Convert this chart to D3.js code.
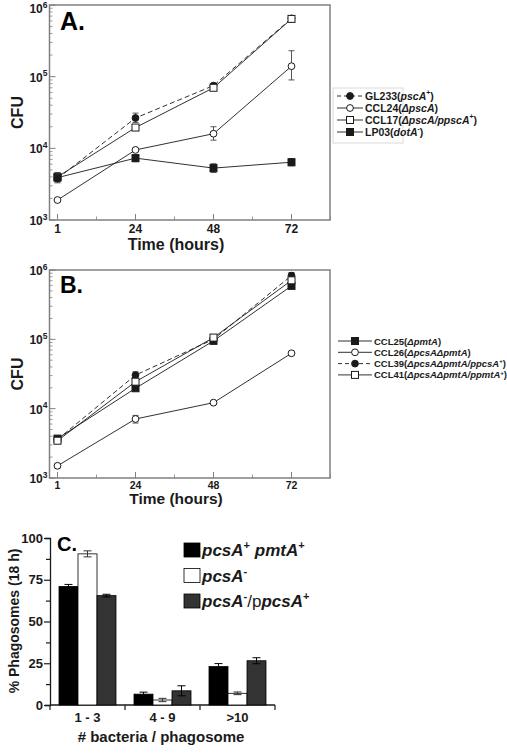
<!DOCTYPE html>
<html><head><meta charset="utf-8">
<script src="https://cdn.jsdelivr.net/npm/d3@7/dist/d3.min.js"></script>
<style>
html,body{margin:0;padding:0;background:#fff;}
svg{display:block;font-family:"Liberation Sans",Arial,Helvetica,sans-serif;font-weight:bold;}
</style></head>
<body><svg id="fig" width="507" height="756"></svg>
<script>
// ---------------- DATA ----------------
const timeLabels = ["1", "24", "48", "72"];
const yTickExps = [3, 4, 5, 6];

// Panel A (CFU)
const gl233   = [3800, 26500, 75000, 650000];
const gl233Lo = [3300, 23000, 70000, 600000];
const gl233Hi = [4400, 31000, 80000, 700000];
const ccl24   = [1900, 9500, 16000, 140000];
const ccl24Lo = [1800, 9000, 13000, 90000];
const ccl24Hi = [2000, 10000, 20000, 230000];
const ccl17   = [4000, 19500, 70000, 640000];
const ccl17Lo = [3800, 18500, 66000, 590000];
const ccl17Hi = [4200, 20500, 74000, 700000];
const lp03    = [3900, 7300, 5300, 6400];
const lp03Lo  = [3400, 6500, 4600, 5700];
const lp03Hi  = [4600, 8100, 6100, 7200];

// Panel B (CFU)
const ccl25   = [3700, 19700, 95000, 590000];
const ccl25Lo = [3500, 18500, 90000, 560000];
const ccl25Hi = [3900, 21000, 100000, 620000];
const ccl26   = [1500, 7100, 12200, 63000];
const ccl26Lo = [1400, 6200, 11500, 60000];
const ccl26Hi = [1600, 8000, 12900, 66000];
const ccl39   = [3600, 30500, 100000, 830000];
const ccl39Lo = [3400, 27000, 95000, 720000];
const ccl39Hi = [3800, 34000, 105000, 920000];
const ccl41   = [3450, 24500, 106000, 710000];
const ccl41Lo = [3250, 23000, 100000, 680000];
const ccl41Hi = [3650, 26000, 112000, 740000];

// Panel C (% phagosomes)
const barCategories = ["1 - 3", "4 - 9", ">10"];
const pctWT   = [71, 6.5, 23];
const errWT   = [1.2, 1.2, 1.8];
const pctPcsA = [90.5, 3, 7];
const errPcsA = [1.8, 1.0, 0.8];
const pctComp = [65.5, 8.5, 26.5];
const errComp = [0.8, 3.0, 1.8];
const barTicks = [0, 12.5, 25, 37.5, 50, 62.5, 75, 87.5, 100];

// ---------------- HELPERS ----------------
const svg = d3.select("#fig");
const INK = "#1a1a1a";

function rich(textSel, segs, size) {
  let raised = false;
  segs.forEach(s => {
    const t = textSel.append("tspan").text(s.t);
    if (s.i) t.attr("font-style", "italic");
    if (s.n) t.attr("font-weight", "normal");
    if (s.sup) {
      t.attr("font-size", size * 0.65).attr("dy", -size * 0.4);
      raised = true;
    } else if (raised) {
      t.attr("dy", size * 0.4);
      raised = false;
    }
  });
}

function marker(g, type, cx, cy) {
  if (type === "fc" || type === "oc") {
    g.append("circle").attr("cx", cx).attr("cy", cy).attr("r", 3.4)
      .attr("fill", type === "fc" ? INK : "#fff").attr("stroke", INK).attr("stroke-width", 1);
  } else {
    const s = 7;
    g.append("rect").attr("x", cx - s / 2).attr("y", cy - s / 2).attr("width", s).attr("height", s)
      .attr("fill", type === "fs" ? INK : "#fff").attr("stroke", INK).attr("stroke-width", 1);
  }
}

function linePanel(cfg) {
  const g = svg.append("g");
  const x = d3.scalePoint().domain(timeLabels).range([cfg.x0 + 8, cfg.x0 + 8 + 3 * 78]);
  const y = d3.scaleLog().domain([1e3, 1e6]).range([cfg.bottom, cfg.top]);
  const step = x.step();

  // frame
  g.append("rect").attr("x", cfg.x0).attr("y", cfg.top).attr("width", cfg.x1 - cfg.x0)
    .attr("height", cfg.bottom - cfg.top).attr("fill", "none").attr("stroke", "#808080").attr("stroke-width", 1.5);

  // y ticks (inside)
  const minor = [];
  yTickExps.slice(0, -1).forEach(e => { for (let k = 2; k <= 9; k++) minor.push(k * Math.pow(10, e)); });
  g.selectAll(".ymin").data(minor).join("line")
    .attr("x1", cfg.x0).attr("x2", cfg.x0 + 3).attr("y1", d => y(d)).attr("y2", d => y(d))
    .attr("stroke", "#808080").attr("stroke-width", 0.8);
  g.selectAll(".ymaj").data(yTickExps).join("line")
    .attr("x1", cfg.x0).attr("x2", cfg.x0 + 6).attr("y1", d => y(Math.pow(10, d))).attr("y2", d => y(Math.pow(10, d)))
    .attr("stroke", "#808080").attr("stroke-width", 1);
  yTickExps.forEach(e => {
    const t = g.append("text").attr("x", cfg.x0 - 2).attr("y", Math.max(y(Math.pow(10, e)) + 5, 13))
      .attr("text-anchor", "end").attr("font-size", 12).attr("fill", INK);
    t.append("tspan").text("10");
    t.append("tspan").text(String(e)).attr("font-size", 8.5).attr("dy", -5.5);
  });

  // x ticks (inside)
  timeLabels.forEach((lab, i) => {
    const px = x(lab);
    g.append("line").attr("x1", px).attr("x2", px).attr("y1", cfg.bottom).attr("y2", cfg.bottom - 6)
      .attr("stroke", "#808080").attr("stroke-width", 1);
    g.append("line").attr("x1", px + step / 2).attr("x2", px + step / 2).attr("y1", cfg.bottom).attr("y2", cfg.bottom - 3.5)
      .attr("stroke", "#808080").attr("stroke-width", 0.8);
    g.append("text").attr("x", px).attr("y", cfg.bottom + cfg.tickDy).attr("text-anchor", "middle")
      .attr("font-size", cfg.tickSize).attr("fill", INK).text(lab);
  });

  // axis titles
  g.append("text").attr("x", 176).attr("y", cfg.bottom + cfg.titleDy).attr("text-anchor", "middle")
    .attr("font-size", cfg.titleSize).attr("fill", INK).text("Time (hours)");
  g.append("text").attr("transform", `translate(23,${(cfg.top + cfg.bottom) / 2}) rotate(-90)`)
    .attr("text-anchor", "middle").attr("font-size", 16).attr("fill", INK).text("CFU");
  g.append("text").attr("x", 60).attr("y", cfg.letterY).attr("font-size", cfg.letterSize)
    .attr("font-family", "Arial, 'Liberation Sans', sans-serif").attr("font-weight", 900).attr("fill", "#000").text(cfg.letter);

  // series
  const lineGen = d3.line().x((d, i) => x(timeLabels[i])).y(d => y(d));
  cfg.series.forEach(s => {
    g.append("path").attr("d", lineGen(s.v)).attr("fill", "none").attr("stroke", INK)
      .attr("stroke-width", 0.9).attr("stroke-dasharray", s.dash ? "5,3" : null);
  });
  cfg.series.forEach(s => {
    s.v.forEach((v, i) => {
      const px = x(timeLabels[i]);
      const lo = y(s.lo[i]), hi = y(s.hi[i]);
      g.append("line").attr("x1", px).attr("x2", px).attr("y1", lo).attr("y2", hi).attr("stroke", "#555").attr("stroke-width", 1);
      [lo, hi].forEach(yy => g.append("line").attr("x1", px - 3).attr("x2", px + 3).attr("y1", yy).attr("y2", yy)
        .attr("stroke", "#555").attr("stroke-width", 1));
    });
  });
  cfg.series.forEach(s => s.v.forEach((v, i) => marker(g, s.m, x(timeLabels[i]), y(v))));

  // legend
  const L = cfg.legend;
  if (L.box) g.append("rect").attr("x", L.box[0]).attr("y", L.box[1]).attr("width", L.box[2]).attr("height", L.box[3])
    .attr("fill", "none").attr("stroke", "#d0d0d0").attr("stroke-width", 0.8);
  cfg.series.forEach((s, i) => {
    const yy = L.y0 + i * L.dy;
    g.append("line").attr("x1", L.lx0).attr("x2", L.lx1).attr("y1", yy).attr("y2", yy).attr("stroke", INK)
      .attr("stroke-width", 0.9).attr("stroke-dasharray", s.dash ? "4,3" : null);
    marker(g, s.m, (L.lx0 + L.lx1) / 2, yy);
    const t = g.append("text").attr("x", L.tx).attr("y", yy + 3.5).attr("font-size", L.fs).attr("fill", INK);
    rich(t, s.label, L.fs);
  });
}

// ---------------- PANEL A ----------------
linePanel({
  x0: 49.5, x1: 330, top: 5, bottom: 220, letter: "A.", letterY: 30, letterSize: 25,
  tickDy: 13, tickSize: 12, titleDy: 30, titleSize: 16,
  legend: { box: [333, 88, 70, 55], y0: 96, dy: 12, lx0: 337, lx1: 363, tx: 365, fs: 10.5 },
  series: [
    { v: gl233, lo: gl233Lo, hi: gl233Hi, m: "fc", dash: true,
      label: [{ t: "GL233(" }, { t: "pscA", i: true }, { t: "+", sup: true }, { t: ")" }] },
    { v: ccl24, lo: ccl24Lo, hi: ccl24Hi, m: "oc",
      label: [{ t: "CCL24(" }, { t: "ΔpscA", i: true }, { t: ")" }] },
    { v: ccl17, lo: ccl17Lo, hi: ccl17Hi, m: "os",
      label: [{ t: "CCL17(" }, { t: "ΔpscA/ppscA", i: true }, { t: "+", sup: true }, { t: ")" }] },
    { v: lp03, lo: lp03Lo, hi: lp03Hi, m: "fs",
      label: [{ t: "LP03(" }, { t: "dotA", i: true }, { t: "-", sup: true }, { t: ")" }] }
  ]
});

// ---------------- PANEL B ----------------
linePanel({
  x0: 49.5, x1: 330, top: 270, bottom: 478, letter: "B.", letterY: 293, letterSize: 23,
  tickDy: 10.5, tickSize: 10.5, titleDy: 26, titleSize: 15.5,
  legend: { box: null, y0: 341, dy: 11.3, lx0: 338, lx1: 372, tx: 374, fs: 9.5 },
  series: [
    { v: ccl25, lo: ccl25Lo, hi: ccl25Hi, m: "fs",
      label: [{ t: "CCL25(" }, { t: "ΔpmtA", i: true }, { t: ")" }] },
    { v: ccl26, lo: ccl26Lo, hi: ccl26Hi, m: "oc",
      label: [{ t: "CCL26(" }, { t: "ΔpcsAΔpmtA", i: true }, { t: ")" }] },
    { v: ccl39, lo: ccl39Lo, hi: ccl39Hi, m: "fc", dash: true,
      label: [{ t: "CCL39(" }, { t: "ΔpcsAΔpmtA/ppcsA", i: true }, { t: "+", sup: true }, { t: ")" }] },
    { v: ccl41, lo: ccl41Lo, hi: ccl41Hi, m: "os",
      label: [{ t: "CCL41(" }, { t: "ΔpcsAΔpmtA/ppmtA", i: true }, { t: "+", sup: true }, { t: ")" }] }
  ]
});

// ---------------- PANEL C ----------------
(function () {
  const g = svg.append("g");
  const x0 = d3.scaleBand().domain(barCategories).range([50, 275]).paddingInner(0.24).paddingOuter(0.12);
  const groups = [
    { v: pctWT, e: errWT, fill: "#000" },
    { v: pctPcsA, e: errPcsA, fill: "#fff" },
    { v: pctComp, e: errComp, fill: "#333" }
  ];
  const x1 = d3.scaleBand().domain(d3.range(groups.length)).range([0, x0.bandwidth()]);
  const y = d3.scaleLinear().domain([0, 100]).range([705, 538]);

  // y axis
  const ya = d3.axisLeft(y).tickValues(barTicks).tickSize(5).tickFormat(d => (d % 25 === 0 ? d : ""));
  const yg = g.append("g").attr("transform", "translate(50,0)").call(ya);
  yg.select(".domain").attr("stroke", INK).attr("stroke-width", 1.3);
  yg.selectAll(".tick line").attr("stroke", INK).attr("stroke-width", 1.2)
    .attr("x2", d => (d % 25 === 0 ? -6 : -4));
  yg.selectAll(".tick text").attr("font-size", 13).attr("font-weight", "bold").attr("fill", INK)
    .attr("font-family", "'Liberation Sans', Arial, sans-serif").attr("x", -7);

  // x axis
  g.append("line").attr("x1", 50).attr("x2", 275).attr("y1", y(0)).attr("y2", y(0)).attr("stroke", INK).attr("stroke-width", 1.3);
  barCategories.forEach((c, i) => {
    const bx = x0(c) - x0.step() * x0.paddingInner() / 2;
    g.append("line").attr("x1", bx).attr("x2", bx).attr("y1", y(0)).attr("y2", y(0) + 5).attr("stroke", INK).attr("stroke-width", 1.2);
    g.append("text").attr("x", x0(c) + x0.bandwidth() / 2).attr("y", 722).attr("text-anchor", "middle")
      .attr("font-size", 13).attr("fill", INK).text(c);
  });
  g.append("line").attr("x1", 275).attr("x2", 275).attr("y1", y(0)).attr("y2", y(0) + 5).attr("stroke", INK).attr("stroke-width", 1.2);

  // bars
  groups.forEach((gr, k) => {
    barCategories.forEach((c, i) => {
      const bx = x0(c) + x1(k);
      g.append("rect").attr("x", bx).attr("y", y(gr.v[i])).attr("width", x1.bandwidth())
        .attr("height", y(0) - y(gr.v[i])).attr("fill", gr.fill).attr("stroke", "#000").attr("stroke-width", 0.8);
    });
  });
  groups.forEach((gr, k) => {
    barCategories.forEach((c, i) => {
      const cx = x0(c) + x1(k) + x1.bandwidth() / 2;
      const lo = y(gr.v[i] - gr.e[i]), hi = y(gr.v[i] + gr.e[i]);
      const col = gr.fill === "#fff" ? "#333" : "#000";
      g.append("line").attr("x1", cx).attr("x2", cx).attr("y1", lo).attr("y2", hi).attr("stroke", col).attr("stroke-width", 1);
      [lo, hi].forEach(yy => g.append("line").attr("x1", cx - 4).attr("x2", cx + 4).attr("y1", yy).attr("y2", yy)
        .attr("stroke", col).attr("stroke-width", 1));
    });
  });

  // titles
  g.append("text").attr("transform", "translate(19,621) rotate(-90)").attr("text-anchor", "middle")
    .attr("font-size", 14).attr("fill", INK).text("% Phagosomes (18 h)");
  g.append("text").attr("x", 161).attr("y", 742).attr("text-anchor", "middle")
    .attr("font-size", 15).attr("fill", INK).text("# bacteria / phagosome");
  g.append("text").attr("x", 57).attr("y", 551).attr("font-size", 20)
    .attr("font-family", "Arial, 'Liberation Sans', sans-serif").attr("font-weight", 900).attr("fill", "#000").text("C.");

  // legend
  const legLabels = [
    [{ t: "pcsA", i: true }, { t: "+", sup: true }, { t: " pmtA", i: true }, { t: "+", sup: true }],
    [{ t: "pcsA", i: true }, { t: "-", sup: true }],
    [{ t: "pcsA", i: true }, { t: "-", sup: true }, { t: "/p", n: true }, { t: "pcsA", i: true }, { t: "+", sup: true }]
  ];
  groups.forEach((gr, k) => {
    const yy = 543 + k * 25.5;
    g.append("rect").attr("x", 184).attr("y", yy).attr("width", 16).attr("height", 14)
      .attr("fill", gr.fill).attr("stroke", "#000").attr("stroke-width", 0.8);
    const t = g.append("text").attr("x", 202).attr("y", yy + 13).attr("font-size", 17).attr("fill", INK);
    rich(t, legLabels[k], 17);
  });
})();
</script>
</body></html>
